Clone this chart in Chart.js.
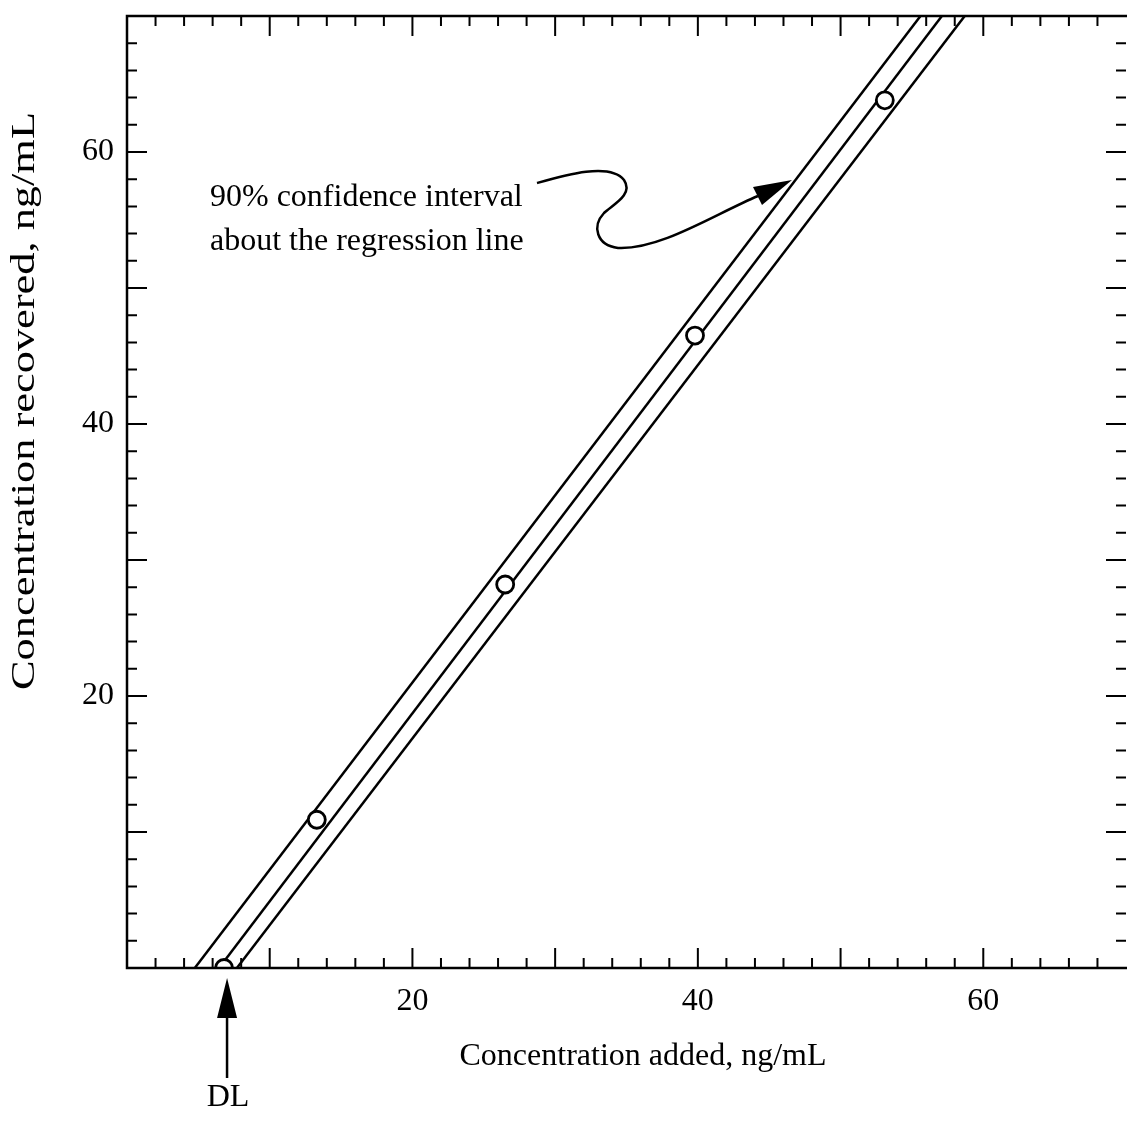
<!DOCTYPE html>
<html>
<head>
<meta charset="utf-8">
<script src="https://cdn.jsdelivr.net/npm/chart.js@4/dist/chart.umd.min.js"></script>
<style>
  body { margin: 0; background: #fff; }
  #wrap { width: 1127px; height: 1138px; }
</style>
</head>
<body>
<div id="wrap"><canvas id="recoveryChart"></canvas></div>
<script>
// --- DATA ---
const addedConc = [6.8, 13.3, 26.5, 39.8, 53.1];       // x, ng/mL
const recoveredConc = [0, 10.9, 28.2, 46.5, 63.8];     // y, ng/mL

// lines are given by their x at y = 0 and y = 70
const lineYEnds = [0, 70];
const upperBandX = [4.75, 55.6];
const fitLineX = [6.45, 57.1];
const lowerBandX = [7.7, 58.7];

const tickLabels = [20, 40, 60];

const FONT = '"Liberation Serif", "Times New Roman", serif';

function toPoints(xs, ys) {
    return xs.map((x, i) => ({ x: x, y: ys[i] }));
}

function lineSet(xs) {
    return {
        data: toPoints(xs, lineYEnds),
        showLine: true,
        borderColor: '#000',
        borderWidth: 2.5,
        pointRadius: 0,
        fill: false,
        order: 1
    };
}

// no extra room for half-labels at the ends of the axes
function noPad(scale) {
    scale.paddingTop = 0;
    scale.paddingBottom = 0;
    scale.paddingLeft = 0;
    scale.paddingRight = 0;
}

// inward ticks on all four sides, frame, titles and arrows
const decorations = {
    id: 'decorations',
    afterDraw(chart) {
        const ctx = chart.ctx;
        const xs = chart.scales.x, ys = chart.scales.y;
        const a = chart.chartArea;
        ctx.save();
        ctx.strokeStyle = '#000';
        ctx.fillStyle = '#000';

        // frame (right edge is cut off in the original)
        ctx.lineWidth = 2.5;
        ctx.beginPath();
        ctx.moveTo(a.right + 2, a.top);
        ctx.lineTo(a.left, a.top);
        ctx.lineTo(a.left, a.bottom);
        ctx.lineTo(a.right + 2, a.bottom);
        ctx.stroke();

        ctx.lineWidth = 2;
        for (let v = 2; v < 70; v += 2) {
            const len = v % 10 === 0 ? 20 : 10;
            const px = xs.getPixelForValue(v);
            const py = ys.getPixelForValue(v);
            ctx.beginPath();
            ctx.moveTo(px, a.bottom); ctx.lineTo(px, a.bottom - len);
            ctx.moveTo(px, a.top); ctx.lineTo(px, a.top + len);
            ctx.moveTo(a.left, py); ctx.lineTo(a.left + len, py);
            ctx.moveTo(a.right, py); ctx.lineTo(a.right - len, py);
            ctx.stroke();
        }

        // axis titles
        ctx.font = '32px ' + FONT;
        ctx.textAlign = 'center';
        ctx.textBaseline = 'middle';
        ctx.fillText('Concentration added, ng/mL', 643, 1057);

        // y title is drawn wider in the original (spans ~112..690)
        const yTitle = 'Concentration recovered, ng/mL';
        ctx.save();
        ctx.font = '34px ' + FONT;
        const stretch = 578 / ctx.measureText(yTitle).width;
        ctx.translate(25, 401);
        ctx.rotate(-Math.PI / 2);
        ctx.scale(stretch, 1);
        ctx.fillText(yTitle, 0, 0);
        ctx.restore();

        // annotation text
        ctx.textAlign = 'left';
        ctx.fillText('90% confidence interval', 210, 198);
        ctx.fillText('about the regression line', 210, 242);
        ctx.textAlign = 'center';
        ctx.fillText('DL', 228, 1098);

        // curved arrow
        ctx.lineWidth = 2.5;
        ctx.beginPath();
        ctx.moveTo(537, 183);
        ctx.bezierCurveTo(565, 175, 610, 162, 624, 180);
        ctx.bezierCurveTo(634, 195, 612, 205, 604, 213);
        ctx.bezierCurveTo(592, 226, 596, 245, 618, 248);
        ctx.bezierCurveTo(660, 250, 715, 214, 758, 196);
        ctx.stroke();
        ctx.beginPath();
        ctx.moveTo(792, 180);
        ctx.lineTo(753, 187);
        ctx.lineTo(762, 205);
        ctx.closePath();
        ctx.fill();

        // DL arrow
        const dlx = xs.getPixelForValue(addedConc[0]) + 3;
        ctx.beginPath();
        ctx.moveTo(dlx, 1078);
        ctx.lineTo(dlx, 1015);
        ctx.stroke();
        ctx.beginPath();
        ctx.moveTo(dlx, 978);
        ctx.lineTo(dlx - 10, 1018);
        ctx.lineTo(dlx + 10, 1018);
        ctx.closePath();
        ctx.fill();

        ctx.restore();
    }
};

new Chart(document.getElementById('recoveryChart'), {
    type: 'scatter',
    data: {
        datasets: [
            {
                data: toPoints(addedConc, recoveredConc),
                pointRadius: 8.5,
                pointBorderWidth: 2.8,
                pointBorderColor: '#000',
                pointBackgroundColor: '#fff',
                showLine: false,
                order: 0
            },
            lineSet(upperBandX),
            lineSet(fitLineX),
            lineSet(lowerBandX)
        ]
    },
    options: {
        responsive: true,
        maintainAspectRatio: false,
        animation: false,
        layout: {
            autoPadding: false,
            padding: { top: 16, right: 1, left: 0, bottom: 0 }
        },
        plugins: {
            legend: { display: false },
            tooltip: { enabled: false }
        },
        scales: {
            x: {
                type: 'linear',
                min: 0,
                max: 70,
                border: { display: false },
                grid: { display: false },
                afterFit(scale) { scale.height = 170; noPad(scale); },
                ticks: {
                    stepSize: 10,
                    padding: 6,
                    maxRotation: 0,
                    color: '#000',
                    font: { family: FONT, size: 32 },
                    callback: v => tickLabels.includes(v) ? String(v) : ''
                }
            },
            y: {
                type: 'linear',
                min: 0,
                max: 70,
                border: { display: false },
                grid: { display: false },
                afterFit(scale) { scale.width = 127; noPad(scale); },
                ticks: {
                    stepSize: 10,
                    padding: 5,
                    color: '#000',
                    font: { family: FONT, size: 32 },
                    callback: v => tickLabels.includes(v) ? String(v) : ''
                }
            }
        }
    },
    plugins: [decorations]
});
</script>
</body>
</html>
